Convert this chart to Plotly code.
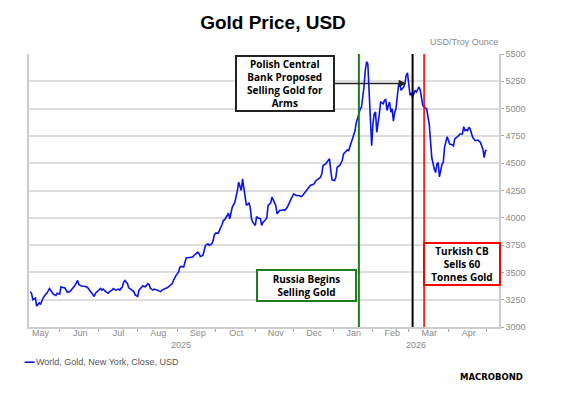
import plotly.graph_objects as go

# 金价数据
dates = [
    "2025-05-09", "2025-05-10", "2025-05-11", "2025-05-13", "2025-05-14", "2025-05-16", "2025-05-17",
    "2025-05-19", "2025-05-21", "2025-05-22", "2025-05-24", "2025-05-25", "2025-05-27", "2025-05-29",
    "2025-05-30", "2025-06-01", "2025-06-02", "2025-06-04", "2025-06-05", "2025-06-07", "2025-06-09",
    "2025-06-11", "2025-06-13", "2025-06-15", "2025-06-16", "2025-06-18", "2025-06-20", "2025-06-22",
    "2025-06-23", "2025-06-25", "2025-06-26", "2025-06-28", "2025-06-29", "2025-07-01", "2025-07-03",
    "2025-07-04", "2025-07-05", "2025-07-07", "2025-07-09", "2025-07-10", "2025-07-12", "2025-07-13",
    "2025-07-15", "2025-07-17", "2025-07-18", "2025-07-20", "2025-07-21", "2025-07-22", "2025-07-24",
    "2025-07-25", "2025-07-27", "2025-07-29", "2025-07-30", "2025-08-01", "2025-08-02", "2025-08-04",
    "2025-08-05", "2025-08-07", "2025-08-09", "2025-08-10", "2025-08-11", "2025-08-13", "2025-08-14",
    "2025-08-16", "2025-08-18", "2025-08-19", "2025-08-20", "2025-08-22", "2025-08-24", "2025-08-26",
    "2025-08-28", "2025-08-29", "2025-08-31", "2025-09-02", "2025-09-03", "2025-09-04", "2025-09-06",
    "2025-09-07", "2025-09-08", "2025-09-09", "2025-09-11", "2025-09-13", "2025-09-14", "2025-09-16",
    "2025-09-17", "2025-09-18", "2025-09-19", "2025-09-21", "2025-09-22", "2025-09-23", "2025-09-25",
    "2025-09-26", "2025-09-28", "2025-09-29", "2025-09-30", "2025-10-01", "2025-10-03", "2025-10-04",
    "2025-10-06", "2025-10-07", "2025-10-08", "2025-10-10", "2025-10-11", "2025-10-12", "2025-10-13",
    "2025-10-14", "2025-10-16", "2025-10-17", "2025-10-18", "2025-10-19", "2025-10-20", "2025-10-21",
    "2025-10-22", "2025-10-23", "2025-10-24", "2025-10-25", "2025-10-27", "2025-10-28", "2025-10-29",
    "2025-10-30", "2025-11-01", "2025-11-02", "2025-11-03", "2025-11-05", "2025-11-06", "2025-11-07",
    "2025-11-09", "2025-11-10", "2025-11-11", "2025-11-13", "2025-11-14", "2025-11-15", "2025-11-17",
    "2025-11-18", "2025-11-20", "2025-11-23", "2025-11-24", "2025-11-26", "2025-11-27", "2025-11-28",
    "2025-11-29", "2025-12-01", "2025-12-03", "2025-12-05", "2025-12-07", "2025-12-08", "2025-12-10",
    "2025-12-12", "2025-12-14", "2025-12-16", "2025-12-17", "2025-12-18", "2025-12-21", "2025-12-22",
    "2025-12-23", "2025-12-24", "2025-12-26", "2025-12-28", "2025-12-29", "2025-12-30", "2025-12-31",
    "2026-01-02", "2026-01-03", "2026-01-04", "2026-01-06", "2026-01-07", "2026-01-08", "2026-01-09",
    "2026-01-10", "2026-01-12", "2026-01-13", "2026-01-14", "2026-01-16", "2026-01-18", "2026-01-19",
    "2026-01-21", "2026-01-22", "2026-01-23", "2026-01-25", "2026-01-26", "2026-01-27", "2026-01-28",
    "2026-01-29", "2026-01-30", "2026-01-31", "2026-02-01", "2026-02-02", "2026-02-03", "2026-02-04",
    "2026-02-06", "2026-02-07", "2026-02-09", "2026-02-10", "2026-02-11", "2026-02-12", "2026-02-13",
    "2026-02-14", "2026-02-15", "2026-02-16", "2026-02-17", "2026-02-18", "2026-02-19", "2026-02-20",
    "2026-02-21", "2026-02-22", "2026-02-23", "2026-02-24", "2026-02-25", "2026-02-26", "2026-02-27",
    "2026-02-28", "2026-03-01", "2026-03-02", "2026-03-03", "2026-03-04", "2026-03-05", "2026-03-06",
    "2026-03-07", "2026-03-08", "2026-03-09", "2026-03-10", "2026-03-11", "2026-03-12", "2026-03-13",
    "2026-03-14", "2026-03-15", "2026-03-17", "2026-03-18", "2026-03-19", "2026-03-21", "2026-03-22",
    "2026-03-23", "2026-03-24", "2026-03-25", "2026-03-26", "2026-03-27", "2026-03-28", "2026-03-29",
    "2026-03-31", "2026-04-01", "2026-04-02", "2026-04-04", "2026-04-05", "2026-04-06", "2026-04-08",
    "2026-04-09", "2026-04-10", "2026-04-12", "2026-04-13", "2026-04-14", "2026-04-15", "2026-04-16",
    "2026-04-17", "2026-04-18", "2026-04-20", "2026-04-21", "2026-04-22", "2026-04-24", "2026-04-25",
    "2026-04-26", "2026-04-28", "2026-04-29", "2026-04-30", "2026-05-01",
]

gold_close = [
    3324, 3309, 3250, 3265, 3191, 3221, 3206,
    3265, 3300, 3309, 3353, 3338, 3300, 3288,
    3309, 3300, 3368, 3359, 3359, 3318, 3324,
    3353, 3382, 3426, 3388, 3376, 3374, 3368,
    3359, 3324, 3309, 3279, 3309, 3329, 3353,
    3338, 3347, 3324, 3309, 3324, 3338, 3353,
    3338, 3347, 3338, 3368, 3412, 3426, 3397,
    3359, 3338, 3324, 3294, 3279, 3338, 3368,
    3376, 3368, 3397, 3388, 3353, 3338, 3347,
    3338, 3329, 3324, 3338, 3347, 3359, 3376,
    3397, 3426, 3473, 3503, 3549, 3555, 3549,
    3595, 3634, 3634, 3640, 3640, 3655, 3671,
    3686, 3671, 3646, 3655, 3701, 3747, 3762,
    3747, 3762, 3793, 3845, 3860, 3860, 3884,
    3939, 3976, 3982, 4021, 4043, 3991, 4043,
    4098, 4143, 4189, 4250, 4326, 4296, 4250,
    4357, 4280, 4159, 4113, 4134, 4098, 3991,
    3960, 3930, 4012, 4000, 3991, 3930, 3960,
    3982, 4000, 4113, 4134, 4189, 4159, 4113,
    4036, 4067, 4073, 4067, 4097, 4128, 4158,
    4174, 4219, 4204, 4204, 4195, 4204, 4235,
    4265, 4296, 4305, 4311, 4335, 4357, 4372,
    4402, 4479, 4494, 4524, 4540, 4433, 4347,
    4341, 4372, 4463, 4479, 4500, 4524, 4585,
    4601, 4622, 4616, 4646, 4723, 4799, 4875,
    4951, 4997, 5012, 5198, 5352, 5429, 5408,
    5137, 4829, 4660, 4860, 4952, 4968, 4783,
    4952, 5060, 5045, 5075, 5082, 4983, 5029,
    5060, 4968, 4998, 4885, 4968, 4998, 5106,
    5214, 5229, 5168, 5183, 5198, 5229, 5306,
    5328, 5245, 5122, 5143, 5106, 5137, 5168,
    5152, 5183, 5198, 5168, 5106, 5029, 5014,
    5008, 4998, 4860, 4706, 4552, 4445, 4414,
    4491, 4506, 4374, 4429, 4491, 4506, 4645,
    4743, 4706, 4675, 4669, 4660, 4722, 4737,
    4752, 4768, 4768, 4835, 4798, 4804, 4798,
    4829, 4814, 4737, 4722, 4706, 4712, 4700,
    4691, 4629, 4552, 4614, 4620,
]

# 事件竖线
event_dates = ["2026-01-21", "2026-03-04", "2026-03-13"]
event_colors = ["#1e7d1e", "#000000", "#ff0000"]

# 月份刻度（标签放在月中）
month_ticks = ["2025-05-17", "2025-06-17", "2025-07-17", "2025-08-17", "2025-09-17", "2025-10-17",
               "2025-11-17", "2025-12-17", "2026-01-17", "2026-02-16", "2026-03-17", "2026-04-17"]
month_labels = ["May", "Jun", "Jul", "Aug", "Sep", "Oct", "Nov", "Dec", "Jan", "Feb", "Mar", "Apr"]
year_labels = ["2025", "2026"]
year_centers = ["2025-09-04", "2026-03-07"]

GRAY = "#8a8a8a"
BLUE = "#0a14f0"
BOX_FONT = dict(family="Open Sans", size=10, color="black")

fig = go.Figure()

fig.add_trace(go.Scatter(
    x=dates,
    y=gold_close,
    mode='lines',
    name='World, Gold, New York, Close, USD',
    line=dict(color=BLUE, width=1.6),
    showlegend=False
))

# 竖线
for d, c in zip(event_dates, event_colors):
    fig.add_shape(type='line', xref='x', yref='paper', x0=d, x1=d, y0=0, y1=1,
                  line=dict(color=c, width=2 if c != "#ff0000" else 1.6))

annotations = []

# 标注框
annotations.append(dict(
    x="2025-11-24", y=5230, xref='x', yref='y',
    text="<b>Polish Central<br>Bank Proposed<br>Selling Gold for<br>Arms</b>",
    showarrow=False, font=BOX_FONT, align='center', valign='middle',
    width=96, height=53, bgcolor='white', bordercolor='#222222', borderwidth=2, borderpad=0
))
annotations.append(dict(
    x="2026-02-27", y=5230, xref='x', yref='y', text="",
    showarrow=True, ax=-73, ay=0, arrowhead=2, arrowsize=1, arrowwidth=1.5, arrowcolor='#222222'
))
annotations.append(dict(
    x="2025-12-11", y=3377, xref='x', yref='y',
    text="<b>Russia Begins<br>Selling Gold</b>",
    showarrow=False, font=BOX_FONT, align='center', valign='middle',
    width=97, height=29, bgcolor='white', bordercolor='#1e7d1e', borderwidth=2, borderpad=0
))
annotations.append(dict(
    x="2026-04-12", y=3578, xref='x', yref='y',
    text="<b>Turkish CB<br>Sells 60<br>Tonnes Gold</b>",
    showarrow=False, font=BOX_FONT, align='center', valign='middle',
    width=74, height=40, bgcolor='white', bordercolor='#ff0000', borderwidth=2, borderpad=0
))

# 年份标签
for yl, yc in zip(year_labels, year_centers):
    annotations.append(dict(
        x=yc, y=-0.067, xref='x', yref='paper', text=yl, showarrow=False,
        font=dict(family="Liberation Sans", size=9, color=GRAY), yanchor='middle'
    ))

# 单位
annotations.append(dict(
    x=1.002, y=1.045, xref='paper', yref='paper', text="USD/Troy Ounce", showarrow=False,
    xanchor='right', yanchor='middle', font=dict(family="Liberation Sans", size=9, color=GRAY)
))

# 图例（手动）
annotations.append(dict(
    x=0.0143, y=-0.129, xref='paper', yref='paper', text="World, Gold, New York, Close, USD",
    showarrow=False, xanchor='left', yanchor='middle', xshift=-2,
    font=dict(family="Liberation Sans", size=9, color="#555555")
))
fig.add_shape(type='line', xref='paper', yref='paper', x0=-0.0092, x1=0.0121, y0=-0.129, y1=-0.129,
              line=dict(color=BLUE, width=1.6))

# Logo
annotations.append(dict(
    x=1.056, y=-0.184, xref='paper', yref='paper', text="<b>MACROBOND</b>",
    showarrow=False, xanchor='right', yanchor='middle',
    font=dict(family="DejaVu Sans", size=8.5, color="black")
))

fig.update_layout(
    width=562,
    height=401,
    # 页面本身有 8px 的边距，这里把边距减掉
    margin=dict(l=21, r=71, t=46, b=82),
    title=dict(text="<b>Gold Price, USD</b>", x=0.4715, xanchor='center', y=0.963, yanchor='middle',
               font=dict(family="Liberation Sans", size=19, color="black")),
    paper_bgcolor='white',
    plot_bgcolor='white',
    annotations=annotations,
    xaxis=dict(
        range=["2025-05-08", "2026-05-10 14:00"],
        tickvals=month_ticks,
        ticktext=month_labels,
        ticks='',
        ticklabelstandoff=-4,
        showgrid=False,
        showline=True,
        linecolor='#cccccc',
        linewidth=1.5,
        tickfont=dict(family="Liberation Sans", size=9, color=GRAY),
        minor=dict(ticks='outside', ticklen=3, tickcolor='#aaaaaa', dtick='M1', tick0='2025-06-01',
                   showgrid=False),
        zeroline=False,
    ),
    yaxis=dict(
        side='right',
        range=[3000, 5500],
        dtick=250,
        showgrid=True,
        gridcolor='#dedede',
        gridwidth=1.5,
        showline=True,
        mirror=True,
        linecolor='#cccccc',
        linewidth=1.5,
        ticks='outside',
        ticklen=3,
        tickcolor='#aaaaaa',
        tickfont=dict(family="Liberation Sans", size=9, color=GRAY),
        zeroline=False,
    ),
)

fig.write_html("out.html")
